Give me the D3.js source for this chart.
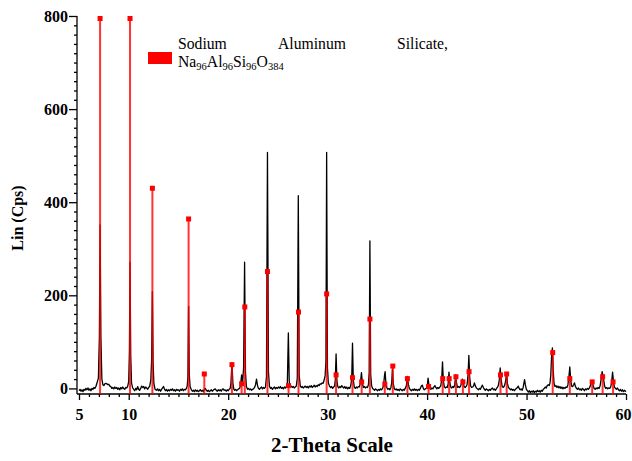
<!DOCTYPE html>
<html>
<head>
<meta charset="utf-8">
<script src="https://cdn.jsdelivr.net/npm/d3@7"></script>
<style>
    body { margin: 0; background: #fff; }
    svg { display: block; font-family: "Liberation Serif", "Times New Roman", serif; }
</style>
</head>
<body>
<svg id="chart" width="632" height="461"></svg>
<script>
// measured scan: [2-theta, counts]
const scan = [
    [5.00,-5],[5.10,-2],[5.20,-6],[5.30,-3],[5.40,-7],[5.50,-2],[5.60,-4],[5.70,0],[5.80,-3],[5.90,1],
    [6.00,-4],[6.10,-1],[6.20,-5],[6.30,0],[6.40,-2],[6.50,2],[6.60,0],[6.70,4],[6.80,11],[6.95,22],
    [7.05,110],[7.12,351],[7.20,110],[7.30,20],[7.40,8],[7.50,6],[7.60,10],[7.70,11],[7.80,10],[7.90,8],
    [8.00,9],[8.10,5],[8.20,4],[8.30,0],[8.40,2],[8.50,-1],[8.60,3],[8.70,0],[8.80,2],[8.90,-2],
    [9.00,1],[9.10,-3],[9.20,2],[9.30,-1],[9.40,3],[9.50,0],[9.60,-2],[9.70,2],[9.80,1],[9.90,5],
    [10.00,15],[10.07,80],[10.13,271],[10.20,70],[10.28,12],[10.38,2],[10.50,-2],[10.60,-5],[10.70,0],[10.80,-3],
    [10.90,4],[11.00,-2],[11.10,-4],[11.20,0],[11.30,5],[11.40,2],[11.50,4],[11.60,-1],[11.70,3],[11.80,1],
    [11.90,-2],[12.00,2],[12.10,4],[12.22,18],[12.30,60],[12.38,208],[12.45,55],[12.53,10],[12.65,-2],[12.80,-4],
    [12.90,-1],[13.00,-5],[13.10,-2],[13.20,-6],[13.30,-2],[13.40,1],[13.50,4],[13.60,-2],[13.70,-5],[13.80,-2],
    [13.90,-6],[14.00,-3],[14.10,-5],[14.20,-2],[14.30,-4],[14.40,-1],[14.50,-5],[14.60,-3],[14.70,-6],[14.80,-2],
    [14.90,-4],[15.00,-3],[15.10,-6],[15.20,-2],[15.30,-4],[15.40,-1],[15.50,-5],[15.60,-2],[15.70,-3],[15.80,0],
    [15.88,5],[15.95,25],[16.02,176],[16.09,30],[16.17,4],[16.30,-3],[16.40,-6],[16.50,-4],[16.60,-7],[16.70,-3],
    [16.80,-6],[16.90,-4],[17.00,-7],[17.10,-5],[17.20,-3],[17.30,-6],[17.40,-4],[17.50,-7],[17.60,-2],[17.70,0],
    [17.80,-4],[17.90,-6],[18.00,-4],[18.10,-7],[18.20,-5],[18.30,-3],[18.40,-6],[18.50,-4],[18.60,-2],[18.70,-1],
    [18.80,-4],[18.90,-6],[19.00,-3],[19.10,-5],[19.20,-3],[19.30,-6],[19.40,-2],[19.50,-1],[19.60,-4],[19.70,-3],
    [19.80,-6],[19.90,-3],[20.00,-5],[20.10,-2],[20.20,0],[20.28,12],[20.38,55],[20.47,12],[20.56,-1],[20.65,-4],
    [20.75,-2],[20.85,-5],[20.95,-3],[21.05,-1],[21.15,0],[21.25,8],[21.35,29],[21.45,12],[21.55,45],[21.65,271],
    [21.74,35],[21.83,4],[21.95,-2],[22.05,0],[22.15,-3],[22.25,-1],[22.35,-4],[22.45,-2],[22.55,-1],[22.65,2],
    [22.75,8],[22.85,20],[22.95,6],[23.05,0],[23.15,-2],[23.25,1],[23.35,3],[23.45,-1],[23.55,2],[23.65,0],
    [23.75,3],[23.85,25],[23.95,507],[24.05,35],[24.15,5],[24.25,0],[24.35,2],[24.45,-2],[24.55,1],[24.65,3],
    [24.75,-1],[24.85,2],[24.95,0],[25.05,3],[25.15,1],[25.25,4],[25.35,0],[25.45,2],[25.55,-1],[25.65,3],
    [25.75,1],[25.85,4],[25.95,12],[26.05,119],[26.14,14],[26.25,3],[26.35,5],[26.45,2],[26.55,4],[26.65,1],
    [26.75,3],[26.85,5],[26.95,22],[27.05,414],[27.14,28],[27.25,5],[27.35,2],[27.45,4],[27.55,1],[27.65,3],
    [27.75,5],[27.85,2],[27.95,4],[28.05,1],[28.15,5],[28.25,3],[28.35,6],[28.45,2],[28.55,4],[28.65,7],
    [28.75,3],[28.85,6],[28.95,4],[29.05,8],[29.15,6],[29.25,10],[29.35,9],[29.45,12],[29.55,11],[29.65,18],
    [29.75,28],[29.83,60],[29.90,507],[29.98,45],[30.07,12],[30.18,5],[30.30,2],[30.40,4],[30.50,0],[30.60,3],
    [30.70,5],[30.77,18],[30.85,74],[30.93,16],[31.02,4],[31.12,1],[31.22,4],[31.32,2],[31.42,6],[31.52,3],
    [31.62,1],[31.72,4],[31.82,0],[31.92,3],[32.02,-1],[32.12,2],[32.22,0],[32.32,6],[32.42,20],[32.50,97],
    [32.58,18],[32.68,3],[32.78,0],[32.88,3],[32.98,1],[33.08,4],[33.18,3],[33.30,12],[33.40,34],[33.50,10],
    [33.60,2],[33.70,4],[33.80,1],[33.90,3],[34.00,2],[34.10,8],[34.18,35],[34.25,317],[34.33,30],[34.42,6],
    [34.52,0],[34.62,-2],[34.72,-4],[34.82,-1],[34.92,-3],[35.02,-5],[35.12,-2],[35.22,-4],[35.32,-1],[35.42,-3],
    [35.52,0],[35.62,6],[35.72,28],[35.78,36],[35.86,10],[35.96,1],[36.06,-2],[36.16,0],[36.26,-3],[36.36,2],
    [36.44,12],[36.52,42],[36.60,10],[36.70,0],[36.80,-3],[36.90,-1],[37.00,-4],[37.10,-2],[37.20,-5],[37.30,-1],
    [37.40,-3],[37.50,-5],[37.60,-2],[37.70,-4],[37.80,0],[37.92,6],[38.02,26],[38.12,8],[38.22,0],[38.32,-3],
    [38.42,-5],[38.52,-2],[38.62,-4],[38.72,-1],[38.82,-4],[38.92,-2],[39.02,-5],[39.12,-2],[39.22,-4],[39.32,0],
    [39.42,5],[39.52,7],[39.62,0],[39.72,-3],[39.82,-1],[39.92,0],[40.02,6],[40.10,22],[40.18,8],[40.28,0],
    [40.38,-2],[40.48,1],[40.58,-1],[40.68,3],[40.78,6],[40.88,2],[40.98,-1],[41.08,2],[41.18,0],[41.28,3],
    [41.38,6],[41.47,20],[41.55,57],[41.63,18],[41.73,4],[41.83,1],[41.93,3],[42.03,2],[42.12,10],[42.20,35],
    [42.28,14],[42.38,3],[42.48,1],[42.58,4],[42.68,2],[42.78,8],[42.88,29],[42.97,10],[43.07,2],[43.17,4],
    [43.27,2],[43.37,5],[43.47,12],[43.55,20],[43.63,14],[43.72,4],[43.82,2],[43.92,4],[44.02,8],[44.12,30],
    [44.20,71],[44.28,25],[44.38,5],[44.48,2],[44.58,3],[44.68,6],[44.76,12],[44.86,5],[44.96,1],[45.06,-1],
    [45.16,-3],[45.26,0],[45.36,-2],[45.46,3],[45.56,7],[45.66,2],[45.76,-2],[45.86,-4],[45.96,-1],[46.06,-3],
    [46.16,-5],[46.26,-2],[46.36,-4],[46.46,-1],[46.56,1],[46.66,-3],[46.76,-1],[46.86,-4],[46.96,-1],[47.06,2],
    [47.16,6],[47.26,18],[47.35,44],[47.44,20],[47.54,5],[47.64,2],[47.74,4],[47.84,10],[47.92,20],[48.00,33],
    [48.08,10],[48.18,2],[48.28,0],[48.38,-3],[48.48,-1],[48.58,-4],[48.68,-2],[48.78,-5],[48.88,-2],[48.98,0],
    [49.08,2],[49.16,5],[49.26,0],[49.36,-3],[49.46,-1],[49.56,-4],[49.66,2],[49.74,12],[49.80,19],[49.88,8],
    [49.98,-2],[50.08,-5],[50.18,-8],[50.28,-5],[50.38,-9],[50.48,-6],[50.58,-8],[50.68,-5],[50.78,-9],[50.88,-6],
    [50.98,-8],[51.08,-4],[51.18,-7],[51.28,-5],[51.38,-8],[51.48,-4],[51.58,-6],[51.68,-2],[51.78,0],[51.88,3],
    [51.98,1],[52.08,6],[52.18,8],[52.28,6],[52.36,12],[52.44,30],[52.52,70],[52.60,87],[52.68,40],[52.76,12],
    [52.86,4],[52.96,6],[53.06,2],[53.16,5],[53.26,1],[53.36,4],[53.46,0],[53.56,3],[53.66,-1],[53.76,2],
    [53.86,0],[53.96,3],[54.06,2],[54.16,8],[54.26,25],[54.35,46],[54.44,18],[54.54,5],[54.64,4],[54.74,8],
    [54.82,12],[54.92,4],[55.02,0],[55.12,-2],[55.22,1],[55.32,-3],[55.42,-1],[55.52,-4],[55.62,0],[55.72,-2],
    [55.82,-5],[55.92,-1],[56.02,-3],[56.12,0],[56.22,-2],[56.32,1],[56.42,6],[56.52,12],[56.60,17],[56.70,6],
    [56.80,0],[56.90,-2],[57.00,1],[57.10,-1],[57.20,2],[57.30,0],[57.40,6],[57.50,20],[57.60,36],[57.68,28],
    [57.76,18],[57.86,4],[57.96,0],[58.06,2],[58.16,-1],[58.26,1],[58.36,0],[58.46,3],[58.55,12],[58.65,35],
    [58.74,14],[58.84,3],[58.94,0],[59.04,-2],[59.14,1],[59.24,-3],[59.34,-5],[59.44,-2],[59.54,-6],[59.64,-3],
    [59.74,-7],[59.84,-4],[59.94,-6],[60.00,-5]
];

// reference pattern sticks (Sodium Aluminum Silicate)
const refAngle = [7.12, 10.13, 12.38, 16.02, 17.60, 20.38, 21.35, 21.67, 23.95, 26.07, 27.07, 29.90, 30.85, 32.50, 33.42, 34.25,
    35.75, 36.55, 38.02, 40.15, 41.57, 42.22, 42.90, 43.60, 44.22, 47.38, 48.00, 52.63, 54.35, 56.60, 57.65, 58.70];
const refCps = [800, 800, 430, 364, 31, 51, 10, 175, 251, 6, 164, 203, 29, 23, 14, 149,
    9, 48, 21, 4, 21, 21, 25, 14, 36, 29, 31, 77, 21, 14, 25, 14];

const xTicks = [5, 10, 20, 30, 40, 50, 60];
const yTicks = [0, 200, 400, 600, 800];

const svg = d3.select("#chart");

const x = d3.scaleLinear().domain([5, 60]).range([79, 626]);
const y = d3.scaleLinear().domain([-12, 800]).range([394, 16]);

// axes
const xAxis = svg.append("g")
    .attr("transform", `translate(0,${y(-12)})`)
    .call(d3.axisBottom(x).tickValues(d3.range(5, 61, 1)).tickSize(3).tickFormat(""));
xAxis.selectAll(".tick line").filter(d => xTicks.includes(d)).attr("y2", 6);
xAxis.select(".domain").attr("d", `M77,0H${x(60)}`);

const xLabels = svg.append("g")
    .attr("transform", `translate(0,${y(-12)})`)
    .call(d3.axisBottom(x).tickValues(xTicks).tickSize(0).tickPadding(15))
    .call(g => g.select(".domain").remove());
xLabels.selectAll("text")
    .attr("font-family", "Liberation Serif, Times New Roman, serif")
    .attr("font-size", 16)
    .attr("font-weight", "bold")
    .attr("fill", "#000");
// keep the last label inside the picture
xLabels.selectAll(".tick text").filter(d => d === 60).attr("dx", -3);

const yAxis = svg.append("g")
    .attr("transform", "translate(77,0)")
    .call(d3.axisLeft(y).tickValues(d3.range(0, 801, 20)).tickSize(3).tickFormat(""));
yAxis.selectAll(".tick line").filter(d => yTicks.includes(d)).attr("x2", -8);
yAxis.select(".domain").attr("d", `M0,${y(-12)}V${y(800)}`);

svg.append("g")
    .attr("transform", "translate(77,0)")
    .call(d3.axisLeft(y).tickValues(yTicks).tickSize(0).tickPadding(9))
    .call(g => g.select(".domain").remove())
    .selectAll("text")
    .attr("font-family", "Liberation Serif, Times New Roman, serif")
    .attr("font-size", 16)
    .attr("font-weight", "bold")
    .attr("fill", "#000");

svg.selectAll(".domain, .tick line").attr("stroke", "#000").attr("stroke-width", 1.3);

// measured scan
const line = d3.line()
    .x(d => x(d[0]))
    .y(d => y(d[1]));

svg.append("path")
    .datum(scan)
    .attr("fill", "none")
    .attr("stroke", "#000")
    .attr("stroke-width", 1.3)
    .attr("stroke-linejoin", "round")
    .attr("d", line);

// reference sticks
const sticks = refAngle.map((a, i) => ({ angle: a, cps: refCps[i] }));

svg.append("g")
    .selectAll("line")
    .data(sticks)
    .join("line")
    .attr("x1", d => x(d.angle))
    .attr("x2", d => x(d.angle))
    .attr("y1", y(-12))
    .attr("y2", d => y(d.cps))
    .attr("stroke", "#ff0000")
    .attr("stroke-opacity", 0.8)
    .attr("stroke-width", 2);

svg.append("g")
    .selectAll("rect")
    .data(sticks)
    .join("rect")
    .attr("x", d => x(d.angle) - 2.5)
    .attr("y", d => Math.max(y(d.cps) - 2.5, y(800)))
    .attr("width", 5)
    .attr("height", 5)
    .attr("fill", "#ff0000");

// legend
svg.append("rect")
    .attr("x", 148)
    .attr("y", 52)
    .attr("width", 24)
    .attr("height", 12)
    .attr("fill", "#ff0000");

const legendWords = [["Sodium", 178], ["Aluminum", 278], ["Silicate,", 397]];
svg.append("g")
    .selectAll("text")
    .data(legendWords)
    .join("text")
    .attr("x", d => d[1])
    .attr("y", 49)
    .attr("font-size", 15.7)
    .text(d => d[0]);

const formula = [["Na", false], ["96", true], ["Al", false], ["96", true], ["Si", false], ["96", true], ["O", false], ["384", true]];
const formulaText = svg.append("text")
    .attr("x", 178)
    .attr("y", 67)
    .attr("font-size", 15.7);
formula.forEach(([t, sub], i) => {
    const prevSub = i > 0 && formula[i - 1][1];
    formulaText.append("tspan")
        .attr("font-size", sub ? 10.5 : 15.7)
        .attr("dy", sub ? 3 : (prevSub ? -3 : 0))
        .text(t);
});

// axis titles
svg.append("text")
    .attr("transform", "translate(23,218) rotate(-90)")
    .attr("text-anchor", "middle")
    .attr("font-size", 16)
    .attr("font-weight", "bold")
    .text("Lin (Cps)");

svg.append("text")
    .attr("x", 332)
    .attr("y", 452)
    .attr("text-anchor", "middle")
    .attr("font-size", 21)
    .attr("font-weight", "bold")
    .text("2-Theta Scale");
</script>
</body>
</html>
